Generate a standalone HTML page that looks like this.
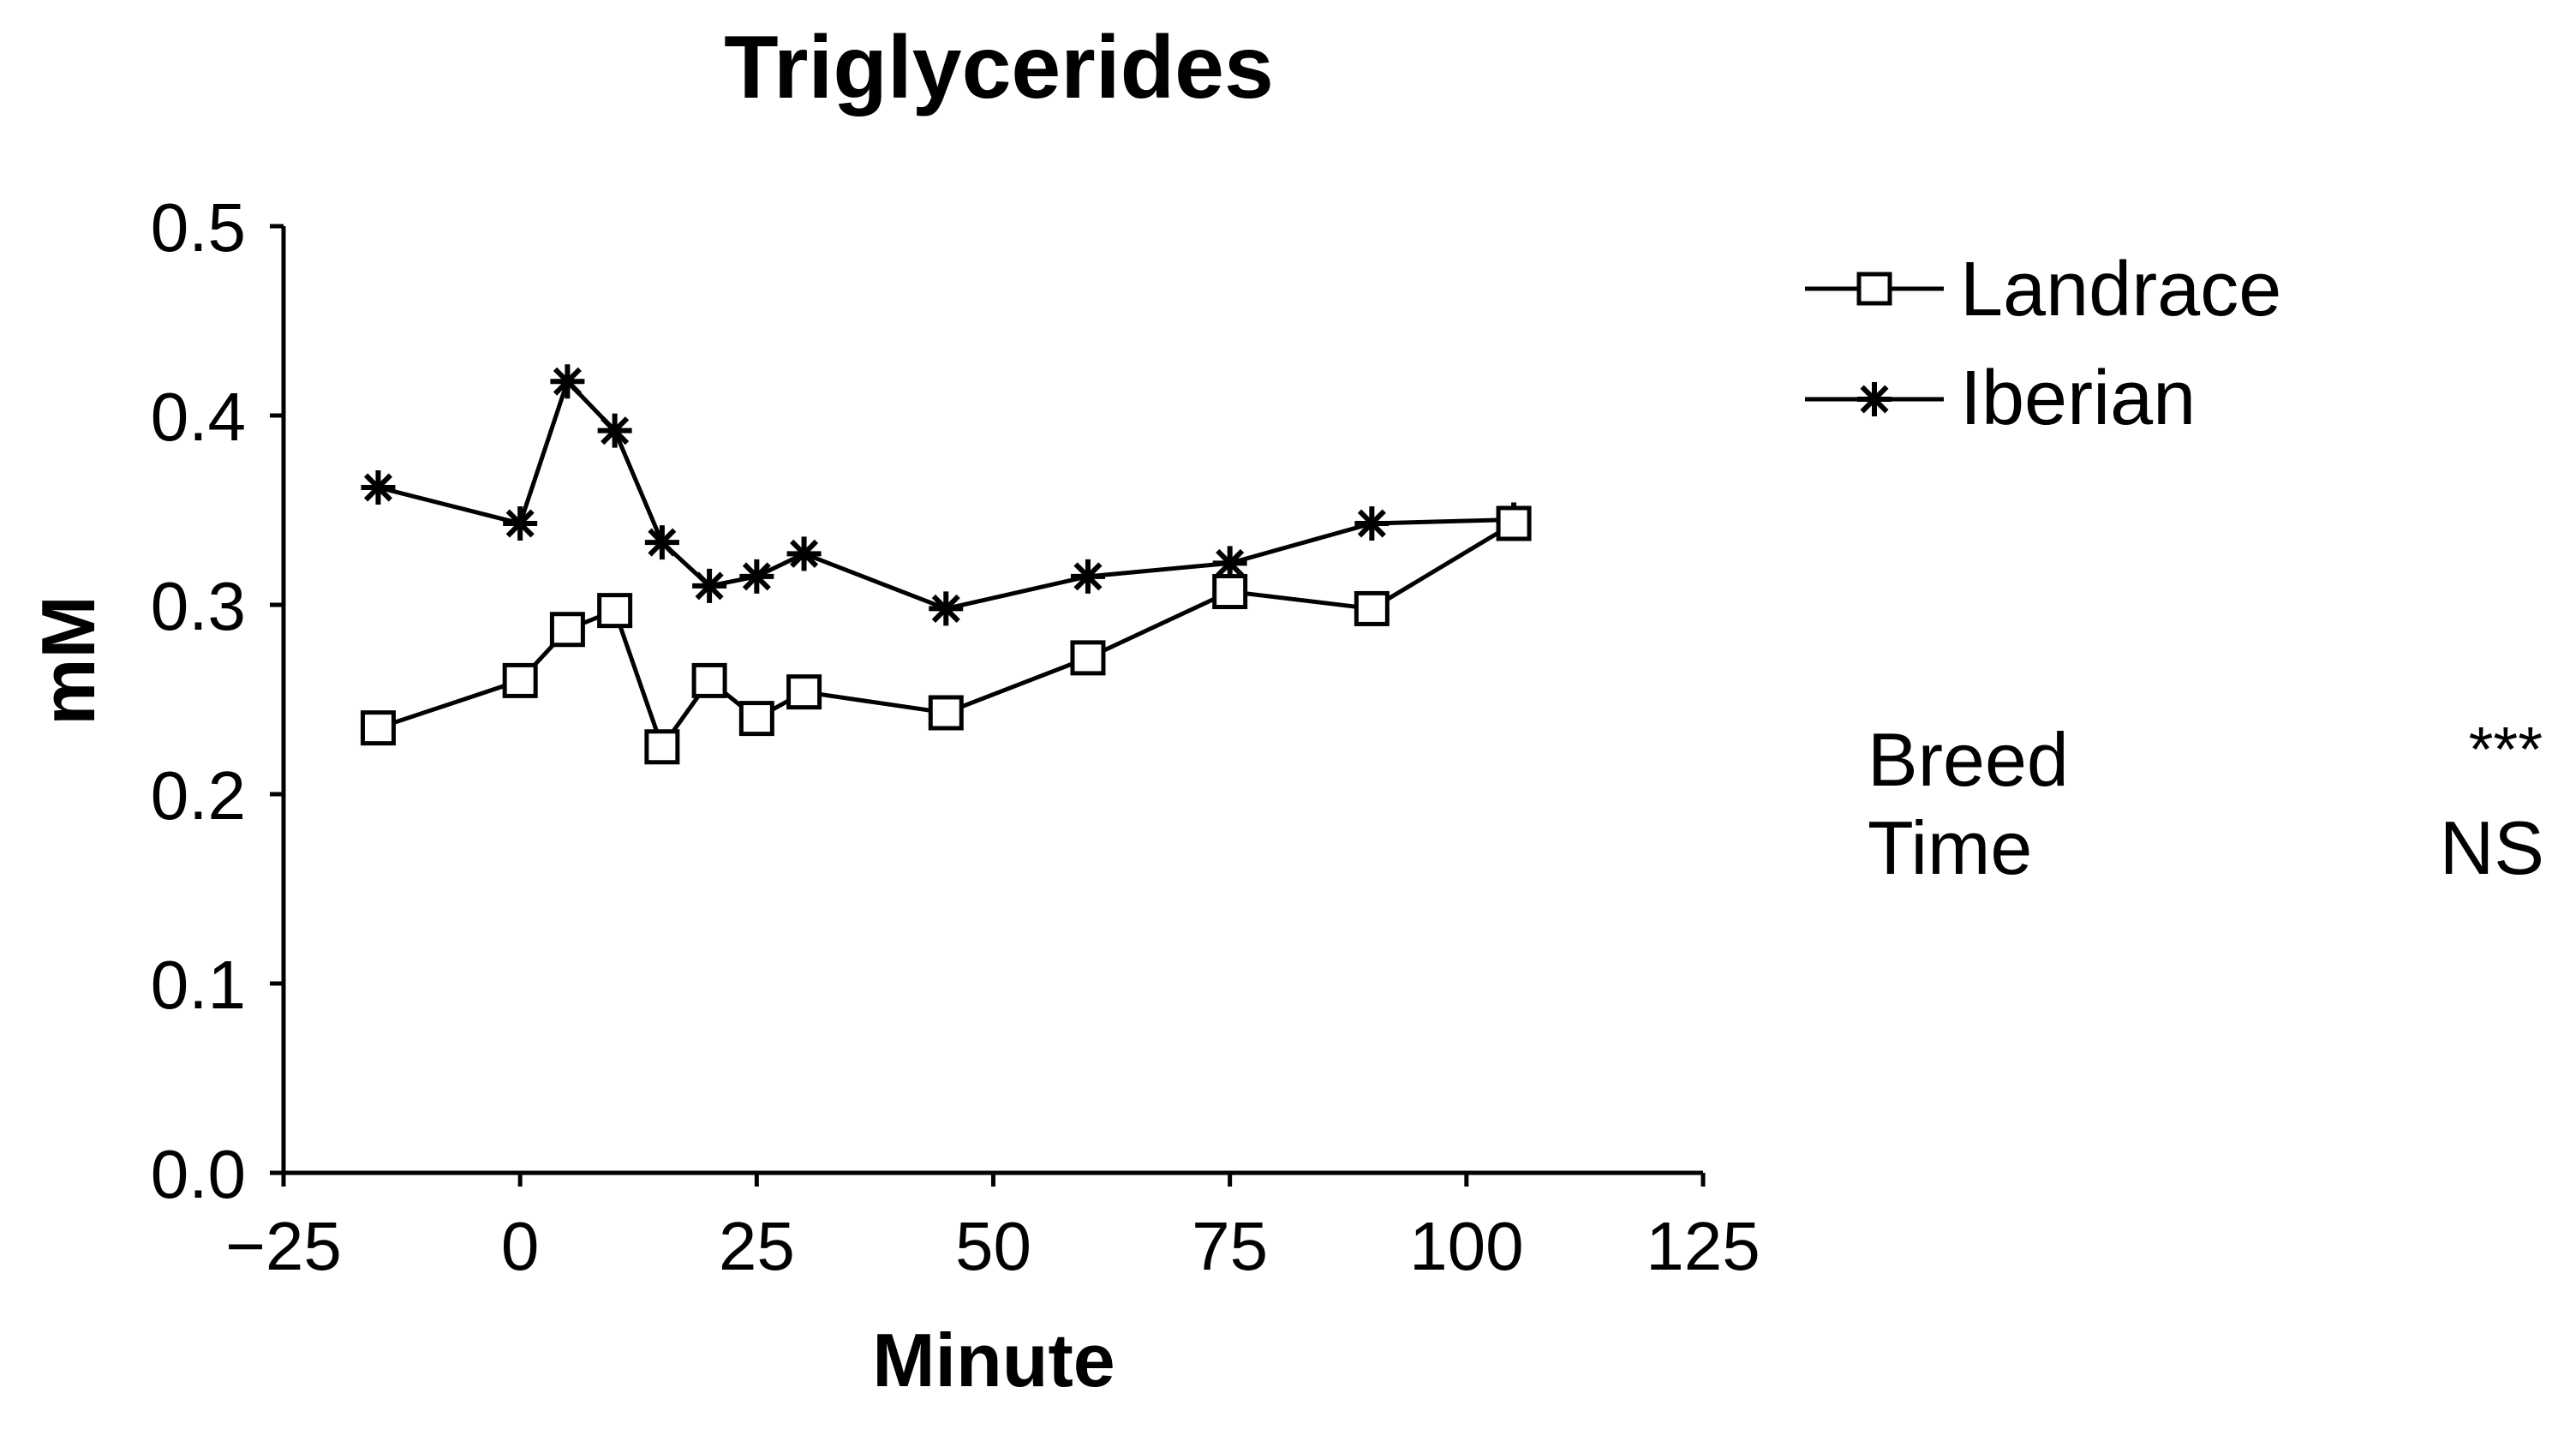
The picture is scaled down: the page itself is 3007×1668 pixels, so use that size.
<!DOCTYPE html>
<html><head><meta charset="utf-8"><style>
html,body{margin:0;padding:0;background:#fff;}
svg{display:block;font-family:"Liberation Sans",Arial,sans-serif;}
</style></head><body>
<svg id="chart" width="3007" height="1668" viewBox="0 0 3007 1668">
<text x="1166" y="114" font-size="104" font-weight="bold" text-anchor="middle">Triglycerides</text>
<g id="axes"></g>
<g id="series"></g>
<text x="1160" y="1618" font-size="88" font-weight="bold" text-anchor="middle">Minute</text>
<text transform="translate(110,771) rotate(-90)" font-size="88" font-weight="bold" text-anchor="middle">mM</text>
<g>
<line x1="2107" y1="337" x2="2269" y2="337" stroke="#000" stroke-width="5"/>
<rect x="2170" y="320" width="36" height="34" fill="#fff" stroke="#000" stroke-width="5"/>
<text x="2288" y="368" font-size="90">Landrace</text>
</g>
<g>
<line x1="2107" y1="466" x2="2269" y2="466" stroke="#000" stroke-width="5"/>
<g id="legstar"></g>
<text x="2288" y="495" font-size="90">Iberian</text>
</g>
<text x="2180" y="917" font-size="88">Breed</text>
<text x="2968" y="900" font-size="74" text-anchor="end">***</text>
<text x="2180" y="1020" font-size="88">Time</text>
<text x="2970" y="1020" font-size="88" text-anchor="end">NS</text>
</svg>
<script>
const xTicks = [-25, 0, 25, 50, 75, 100, 125];
const yTicks = [0, 0.1, 0.2, 0.3, 0.4, 0.5];
const yTickLabels = ["0.0","0.1","0.2","0.3","0.4","0.5"];
const xTickLabels = ["\u221225","0","25","50","75","100","125"];
const minutes = [-15, 0, 5, 10, 15, 20, 25, 30, 45, 60, 75, 90, 105];
const landrace = [0.235, 0.26, 0.287, 0.297, 0.225, 0.26, 0.24, 0.254, 0.243, 0.272, 0.307, 0.298, 0.343];
const iberian = [0.362, 0.343, 0.418, 0.392, 0.333, 0.31, 0.315, 0.327, 0.298, 0.315, 0.322, 0.343, 0.345];

const NS = "http://www.w3.org/2000/svg";
const X0 = 331, X1 = 1988, Y0 = 1369, Y1 = 264;
function sx(v){ return X0 + (v + 25) / 150 * (X1 - X0); }
function sy(v){ return Y0 - v / 0.5 * (Y0 - Y1); }
function mk(tag, attrs, parent){ const e = document.createElementNS(NS, tag); for (const k in attrs) e.setAttribute(k, attrs[k]); parent.appendChild(e); return e; }

const axes = document.getElementById('axes');
const xa = mk('line', {x1: X0, y1: Y0, x2: X1, y2: Y0, stroke: '#000', 'stroke-width': 5}, axes);


const ya = mk('line', {x1: X0, y1: Y0 + 2, x2: X0, y2: Y1, stroke: '#000', 'stroke-width': 5}, axes);


xTicks.forEach((t, i) => {
  mk('line', {x1: sx(t), y1: Y0, x2: sx(t), y2: Y0 + 16, stroke: '#000', 'stroke-width': 5}, axes);
  const tx = mk('text', {x: sx(t), y: 1482, 'font-size': 80, 'text-anchor': 'middle'}, axes);
  tx.textContent = xTickLabels[i];
  
  
});
yTicks.forEach((t, i) => {
  mk('line', {x1: X0 - 16, y1: sy(t), x2: X0, y2: sy(t), stroke: '#000', 'stroke-width': 5}, axes);
  const tx = mk('text', {x: 287, y: sy(t) + 29, 'font-size': 80, 'text-anchor': 'end'}, axes);
  tx.textContent = yTickLabels[i];
  
  
});

function star(cx, cy, parent, r){
  const g = mk('g', {stroke: '#000', 'stroke-width': 6}, parent);
  mk('line', {x1: cx, y1: cy - r, x2: cx, y2: cy + r}, g);
  mk('line', {x1: cx - r, y1: cy, x2: cx + r, y2: cy}, g);
  const d = r * 0.72;
  mk('line', {x1: cx - d, y1: cy - d, x2: cx + d, y2: cy + d}, g);
  mk('line', {x1: cx - d, y1: cy + d, x2: cx + d, y2: cy - d}, g);
  return g;
}
star(2188, 466, document.getElementById('legstar'), 20);

const series = document.getElementById('series');
const ibLine = mk('polyline', {points: minutes.map((m, i) => sx(m) + ',' + sy(iberian[i])).join(' '), fill: 'none', stroke: '#000', 'stroke-width': 5}, series);


minutes.forEach((m, i) => {
  const s = star(sx(m), sy(iberian[i]), series, 20);
  
  
});
const lrLine = mk('polyline', {points: minutes.map((m, i) => sx(m) + ',' + sy(landrace[i])).join(' '), fill: 'none', stroke: '#000', 'stroke-width': 5}, series);


minutes.forEach((m, i) => {
  const r = mk('rect', {x: sx(m) - 18, y: sy(landrace[i]) - 18, width: 36, height: 36, fill: '#fff', stroke: '#000', 'stroke-width': 5}, series);
  
  
});
</script>
</body></html>
